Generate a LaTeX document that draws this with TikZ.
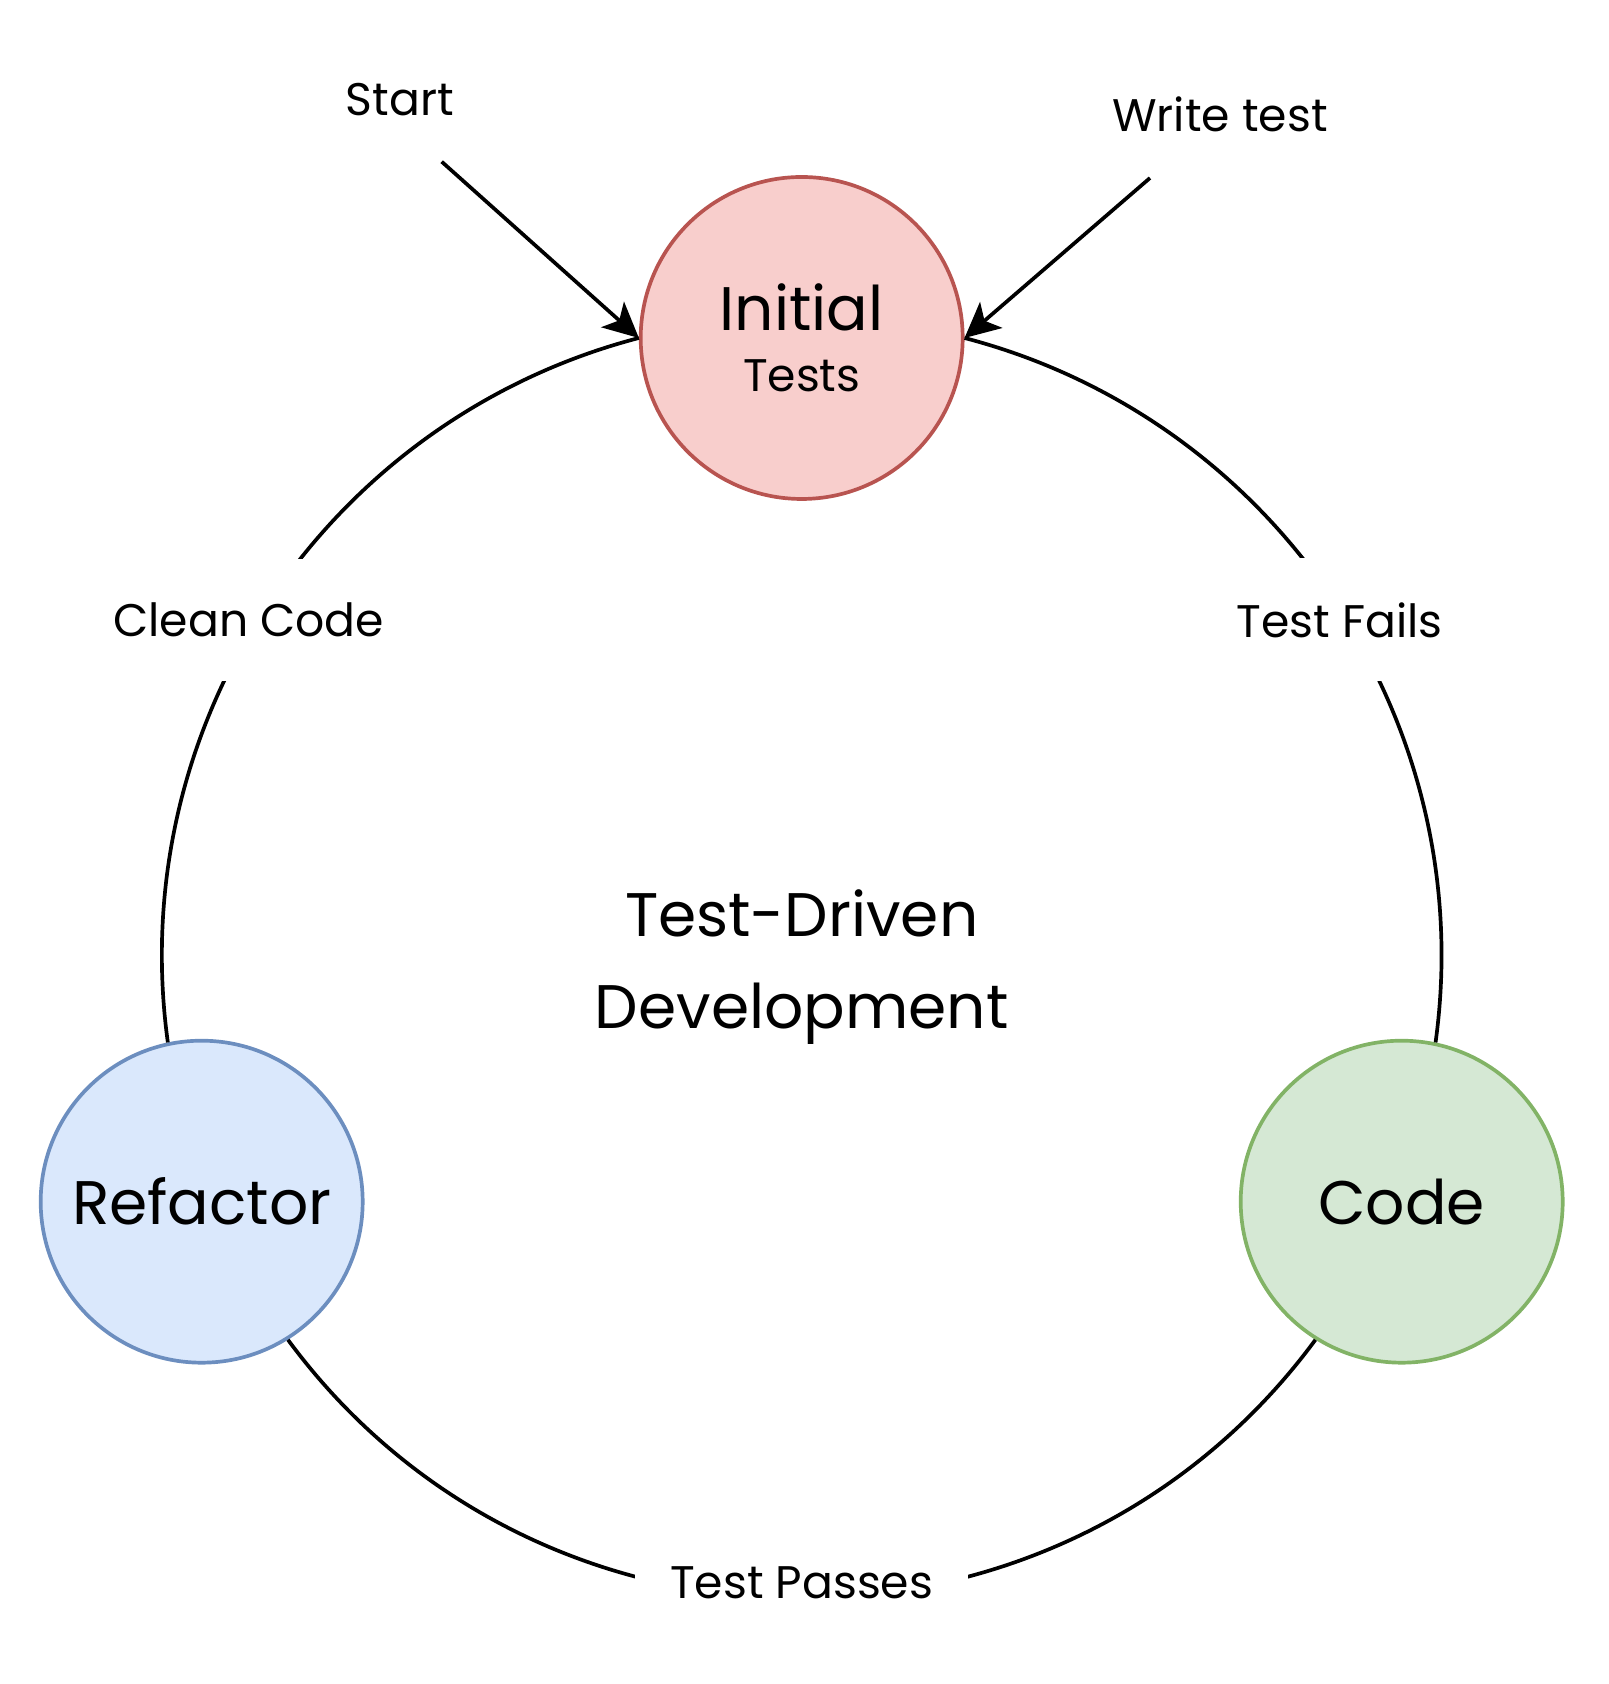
\documentclass[tikz,border=0pt]{standalone}
\usepackage{fontspec}
\setmainfont{Poppins}
\usetikzlibrary{arrows.meta}

\definecolor{iniFill}{HTML}{F8CECC}
\definecolor{iniDraw}{HTML}{B85450}
\definecolor{refFill}{HTML}{DAE8FC}
\definecolor{refDraw}{HTML}{6C8EBF}
\definecolor{codeFill}{HTML}{D5E8D4}
\definecolor{codeDraw}{HTML}{82B366}

\newcommand{\tddbig}{\fontsize{17.5}{26}\selectfont}
\newcommand{\tddsmall}{\fontsize{13}{16}\selectfont}

\tikzset{
  phase/.style={circle, draw, line width=1.05pt, minimum size=3.22cm, inner sep=0pt, font=\tddbig},
  cyc/.style={line width=1.05pt},
  lbl/.style={fill=white, inner xsep=0.35cm, inner ysep=0.44cm, font=\tddsmall},
  feed/.style={line width=1.05pt, -{Stealth[length=10pt,width=9.7pt,inset=2.5pt]}},
}

\begin{document}
\begin{tikzpicture}
  \useasboundingbox (-8.017,-7.25) rectangle (8.063,9.59);
  % Phases
  \node[phase, draw=iniDraw, fill=iniFill, align=center] (ini) at (0,6.21) {Initial\\[-8.7pt]{\tddsmall Tests}};
  \node[phase, draw=refDraw, fill=refFill] (ref) at (-6,-2.427) {Refactor};
  \node[phase, draw=codeDraw, fill=codeFill] (code) at (6,-2.427) {Code};
  \node[font=\tddbig, align=center] (title) at (0,-0.08) {Test-Driven\\Development};
  % Cycle
  \draw[cyc] (ini.east) to[bend left=41.6, looseness=0.974]
    node[lbl, xshift=0.06cm, yshift=-0.19cm] {Test Fails} (code.78);
  \draw[cyc] (code.238) to[bend left=53.6, looseness=1.069]
    node[lbl, yshift=0.16cm] {Test Passes} (ref.302);
  \draw[cyc] (ref.102) to[bend left=41.6, looseness=0.974]
    node[lbl, xshift=-0.21cm, yshift=-0.19cm] {Clean Code} (ini.west);
  % Entry
  \node[font=\tddsmall] (start) at (-4.017,8.59) {Start};
  \node[font=\tddsmall] (write) at (4.183,8.45) {Write test};
  \coordinate (startTail) at (-3.60,7.973);
  \coordinate (writeTail) at (3.483,7.81);
  \draw[feed] (startTail) -- (ini.west);
  \draw[feed] (writeTail) -- (ini.east);
\end{tikzpicture}
\end{document}
